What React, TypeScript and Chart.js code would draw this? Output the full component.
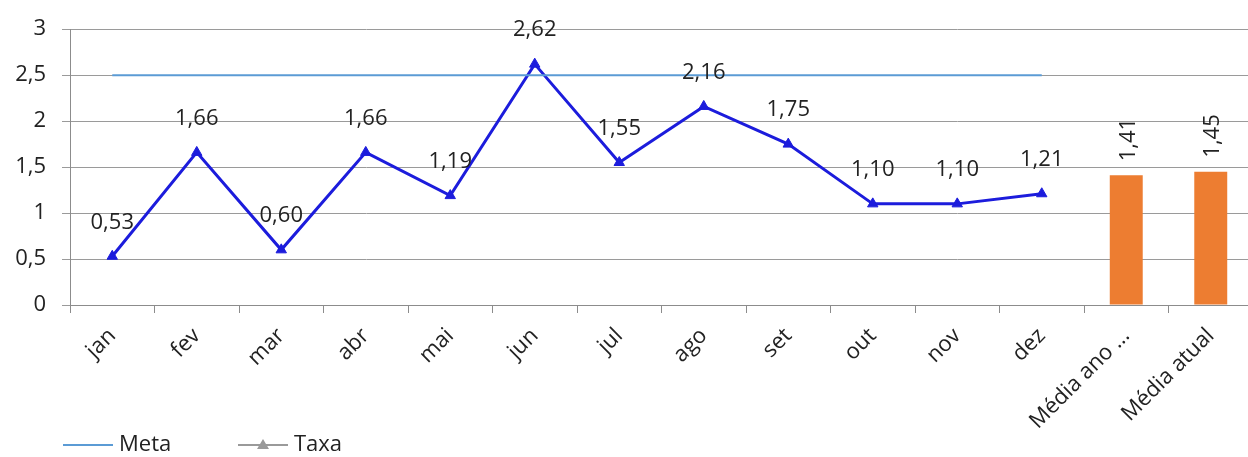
import React, { useEffect, useRef } from "react";
import { Chart, registerables } from "chart.js";

Chart.register(...registerables);

const categories = ["jan", "fev", "mar", "abr", "mai", "jun", "jul", "ago", "set", "out", "nov", "dez", "Média ano ...", "Média atual"];
const metaValues = [2.5, 2.5, 2.5, 2.5, 2.5, 2.5, 2.5, 2.5, 2.5, 2.5, 2.5, 2.5, null, null];
const taxaValues = [0.53, 1.66, 0.6, 1.66, 1.19, 2.62, 1.55, 2.16, 1.75, 1.1, 1.1, 1.21, null, null];
const mediaValues = [null, null, null, null, null, null, null, null, null, null, null, null, 1.41, 1.45];
const yTicks = [0, 0.5, 1, 1.5, 2, 2.5, 3];
const legendItems = ["Meta", "Taxa"];

const FONT = "'Open Sans', 'Liberation Sans', sans-serif";
const FS = 22;
const META_COLOR = "#5B9BD5";
const TAXA_COLOR = "#1c1cdc";
const BAR_COLOR = "#ED7D31";
const fmt = (v: number) => v.toFixed(2).replace(".", ",");
const fmtTick = (v: number) => String(v).replace(".", ",");

const labelPlugin = {
  id: "valueLabels",
  afterDatasetsDraw(chart: any) {
    const ctx = chart.ctx;
    ctx.save();
    ctx.fillStyle = "#222";
    ctx.font = `${FS}px ${FONT}`;
    const taxaMeta = chart.getDatasetMeta(1);
    taxaMeta.data.forEach((pt: any, i: number) => {
      const v = taxaValues[i];
      if (v == null) return;
      ctx.textAlign = "center";
      ctx.textBaseline = "middle";
      ctx.fillText(fmt(v), pt.x, pt.y - 34);
    });
    const barMeta = chart.getDatasetMeta(2);
    barMeta.data.forEach((bar: any, i: number) => {
      const v = mediaValues[i];
      if (v == null) return;
      ctx.save();
      ctx.translate(bar.x + 2, bar.y - 14);
      ctx.rotate(-Math.PI / 2);
      ctx.textAlign = "left";
      ctx.textBaseline = "middle";
      ctx.fillText(fmt(v), 0, 0);
      ctx.restore();
    });
    ctx.restore();
  },
  afterDraw(chart: any) {
    const ctx = chart.ctx;
    const y = 445;
    ctx.save();
    ctx.font = `${FS}px ${FONT}`;
    ctx.textBaseline = "middle";
    ctx.textAlign = "left";
    const starts = [63, 238];
    legendItems.forEach((name, i) => {
      const x0 = starts[i];
      const color = i === 0 ? META_COLOR : "#9a9a9a";
      ctx.strokeStyle = color;
      ctx.lineWidth = 2;
      ctx.beginPath();
      ctx.moveTo(x0, y);
      ctx.lineTo(x0 + 50, y);
      ctx.stroke();
      if (i === 1) {
        ctx.fillStyle = color;
        ctx.beginPath();
        ctx.moveTo(x0 + 25, y - 6);
        ctx.lineTo(x0 + 31, y + 4);
        ctx.lineTo(x0 + 19, y + 4);
        ctx.closePath();
        ctx.fill();
      }
      ctx.fillStyle = "#222";
      ctx.fillText(name, x0 + 56, y);
    });
    ctx.restore();
  },
};

export default function App() {
  const ref = useRef<HTMLCanvasElement>(null);
  useEffect(() => {
    const chart = new Chart(ref.current!, {
      type: "line",
      data: {
        labels: categories,
        datasets: [
          {
            label: "Meta",
            data: metaValues,
            borderColor: META_COLOR,
            backgroundColor: META_COLOR,
            borderWidth: 2,
            pointRadius: 0,
            pointHoverRadius: 0,
            fill: false,
          },
          {
            label: "Taxa",
            data: taxaValues,
            borderColor: TAXA_COLOR,
            backgroundColor: TAXA_COLOR,
            borderWidth: 3,
            pointStyle: "triangle",
            pointRadius: 6,
            pointBorderWidth: 1,
            fill: false,
          },
          {
            type: "bar",
            label: "Média",
            data: mediaValues,
            backgroundColor: BAR_COLOR,
            borderWidth: 0,
            barPercentage: 0.78,
            categoryPercentage: 0.5,
          } as any,
        ],
      },
      options: {
        responsive: false,
        animation: false,
        layout: { padding: { left: 0, right: 3, top: 23, bottom: 0 } },
        plugins: {
          tooltip: { enabled: false },
          legend: { display: false },
        },
        scales: {
          x: {
            offset: true,
            afterFit: (axis: any) => {
              axis.height = 152;
            },
            grid: {
              offset: true,
              drawOnChartArea: false,
              drawTicks: true,
              tickLength: 8,
              color: "#8c8c8c",
            },
            border: { color: "#8c8c8c", width: 1 },
            ticks: {
              color: "#222",
              font: { family: FONT, size: FS },
              maxRotation: 45,
              minRotation: 45,
              autoSkip: false,
              padding: 10,
            },
          },
          y: {
            min: 0,
            max: 3,
            afterFit: (axis: any) => {
              axis.width = 70;
            },
            afterBuildTicks: (axis: any) => {
              axis.ticks = yTicks.map((v) => ({ value: v }));
            },
            grid: { color: "#9a9a9a", tickLength: 8, lineWidth: 1 },
            border: { color: "#8c8c8c", width: 1 },
            ticks: {
              color: "#222",
              font: { family: FONT, size: FS },
              padding: 16,
              callback: (v: any) => fmtTick(Number(v)),
            },
          },
        },
      },
      plugins: [labelPlugin],
    });
    return () => chart.destroy();
  }, []);
  return (
    <div style={{ position: "absolute", left: 0, top: 0, width: 1248, height: 457, overflow: "hidden", background: "#fff" }}>
      <canvas ref={ref} width={1260} height={457} style={{ display: "block" }} />
    </div>
  );
}
